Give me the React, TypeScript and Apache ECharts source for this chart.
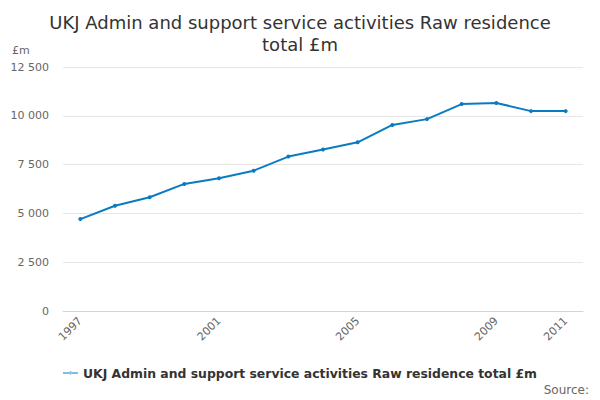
import React, { useEffect, useRef } from "react";
import * as echarts from "echarts";

const years = ["1997","1998","1999","2000","2001","2002","2003","2004","2005","2006","2007","2008","2009","2010","2011"];
const values = [4710, 5390, 5830, 6510, 6800, 7190, 7910, 8270, 8640, 9530, 9830, 10600, 10660, 10240, 10240];
const shownLabels = [0, 4, 8, 12, 14];
const seriesName = "UKJ Admin and support service activities Raw residence total £m";
const titleText = "UKJ Admin and support service activities Raw residence\ntotal £m";

const fmt = (v: number) => String(v).replace(/\B(?=(\d{3})+(?!\d))/g, " ");

export default function App() {
  const ref = useRef<HTMLDivElement>(null);
  useEffect(() => {
    if (!ref.current) return;
    const chart = echarts.init(ref.current, undefined, { renderer: "svg" });
    chart.setOption({
      animation: false,
      textStyle: { fontFamily: "DejaVu Sans" },
      title: {
        text: titleText,
        left: "center",
        top: 6,
        textStyle: { fontSize: 18, fontWeight: "normal", color: "#333333", lineHeight: 22, fontFamily: "DejaVu Sans" },
      },
      graphic: [
        { type: "text", left: 12, top: 45, style: { text: "£m", fontSize: 11, fill: "#666666", fontFamily: "DejaVu Sans" } },
        { type: "text", right: 11, top: 384, style: { text: "Source:", fontSize: 12, fill: "#666666", fontFamily: "DejaVu Sans" } },
      ],
      legend: {
        left: 63,
        top: 367,
        padding: 0,
        itemWidth: 15,
        itemHeight: 8,
        itemGap: 10,
        textStyle: { fontSize: 12.4, fontWeight: "bold", color: "#333333", fontFamily: "DejaVu Sans" },
        data: [{ name: seriesName, icon: "path://M0,3.5 L16,3.5 L16,4.5 L0,4.5 Z M6.5,4 a1.5,1.5 0 1,0 3,0 a1.5,1.5 0 1,0 -3,0" }],
      },
      grid: { left: 63, right: 17, top: 67, bottom: 89 },
      xAxis: {
        type: "category",
        data: years,
        boundaryGap: true,
        axisLine: { lineStyle: { color: "#ccd6eb" } },
        axisTick: { alignWithLabel: true, interval: 0, length: 9, lineStyle: { color: "#ccd6eb" } },
        axisLabel: {
          interval: (i: number) => shownLabels.includes(i),
          rotate: 45,
          fontSize: 11,
          color: "#666666",
          margin: 8,
        },
      },
      yAxis: {
        type: "value",
        min: 0,
        max: 12500,
        interval: 2500,
        axisLine: { show: false },
        axisTick: { show: false },
        splitLine: { lineStyle: { color: "#e6e6e6" } },
        axisLabel: { fontSize: 11, color: "#666666", margin: 14, formatter: (v: number) => fmt(v) },
      },
      series: [
        {
          name: seriesName,
          type: "line",
          data: values,
          symbol: "circle",
          symbolSize: 4,
          lineStyle: { width: 2, color: "#0b7bc1" },
          itemStyle: { color: "#0b7bc1" },
        },
      ],
    });
    return () => chart.dispose();
  }, []);
  return <div ref={ref} style={{ width: 600, height: 400, position: "absolute", left: 0, top: 0 }} />;
}
